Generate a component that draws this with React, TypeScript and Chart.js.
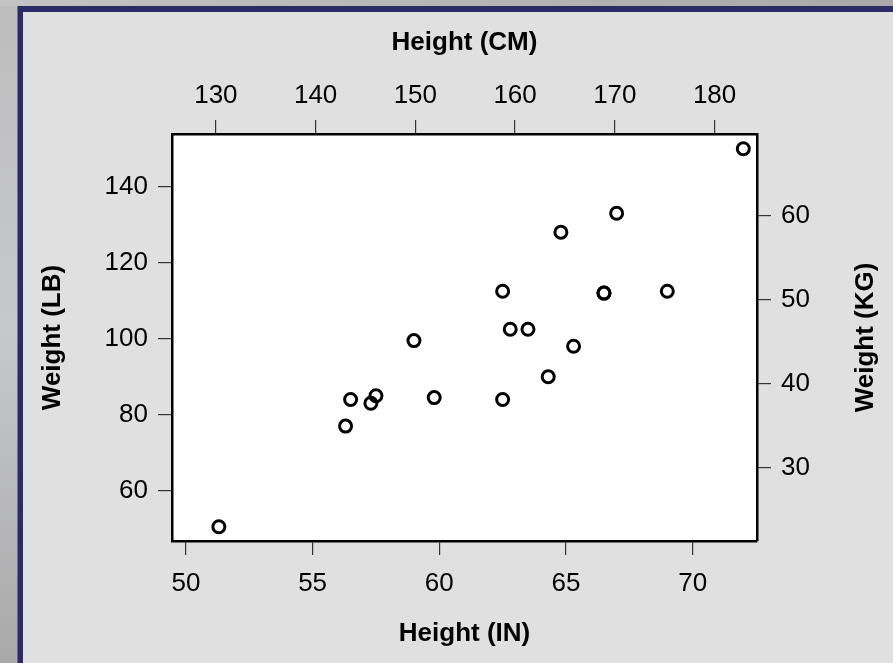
import React, { useEffect, useRef } from "react";
import { Chart, registerables } from "chart.js";

Chart.register(...registerables);

// Data (height in inches, weight in pounds)
const heightIn = [69, 56.5, 65.3, 62.8, 63.5, 57.3, 59.8, 62.5, 62.5, 59, 51.3, 64.3, 56.3, 66.5, 72, 64.8, 67, 57.5, 66.5];
const weightLb = [112.5, 84, 98, 102.5, 102.5, 83, 84.5, 112.5, 84, 99.5, 50.5, 90, 77, 112, 150, 128, 133, 85, 112];

// Tick labels
const xTicksIn = [50, 55, 60, 65, 70];
const xTicksCm = [130, 140, 150, 160, 170, 180];
const yTicksLb = [60, 80, 100, 120, 140];
const yTicksKg = [30, 40, 50, 60];

// Axis ranges
const xRangeIn = [49.45, 72.54];
const yRangeLb = [46.76, 153.87];
const CM_PER_IN = 2.54;
const LB_PER_KG = 2.20462;

const titleBottom = "Height (IN)";
const titleTop = "Height (CM)";
const titleLeft = "Weight (LB)";
const titleRight = "Weight (KG)";

const FONT = "'Liberation Sans', Arial, Helvetica, sans-serif";
const tickFont = { family: FONT, size: 26 };
const titleFont = { family: FONT, size: 26, weight: "bold" as const };

const grid = {
  display: true,
  drawOnChartArea: false,
  drawTicks: true,
  tickLength: 14,
  tickColor: "#333",
  tickWidth: 1.2,
  lineWidth: 1.2,
  color: "#333",
};
const border = { display: true, color: "#000", width: 2.5 };
const setTicks = (vals: number[]) => (scale: any) => {
  scale.ticks = vals.map((v) => ({ value: v }));
};

const bgPlugin = {
  id: "bgPlugin",
  beforeDraw(chart: any) {
    const { ctx, width, height, chartArea } = chart;
    ctx.save();
    const g = ctx.createLinearGradient(0, 0, 0, height);
    g.addColorStop(0, "#bdbdbd");
    g.addColorStop(0.5, "#c7c8cc");
    g.addColorStop(1, "#a9a9a9");
    ctx.fillStyle = g;
    ctx.fillRect(0, 0, width, height);
    const gt = ctx.createLinearGradient(0, 0, width, 0);
    gt.addColorStop(0, "#c4c4c4");
    gt.addColorStop(1, "#a8a8a8");
    ctx.fillStyle = gt;
    ctx.fillRect(0, 0, width, 6);
    // navy frame
    ctx.fillStyle = "#2b2b66";
    ctx.fillRect(17.5, 6, width, height);
    // panel
    ctx.fillStyle = "#e0e0e0";
    ctx.fillRect(23, 12, width, height);
    // plot area
    ctx.fillStyle = "#ffffff";
    ctx.fillRect(chartArea.left, chartArea.top, chartArea.right - chartArea.left, chartArea.bottom - chartArea.top);
    ctx.restore();
  },
};

const rightTitlePlugin = {
  id: "rightTitlePlugin",
  afterDraw(chart: any) {
    const { ctx, chartArea } = chart;
    ctx.save();
    ctx.translate(866, (chartArea.top + chartArea.bottom) / 2);
    ctx.rotate(-Math.PI / 2);
    ctx.font = `bold 26px ${FONT}`;
    ctx.fillStyle = "#000";
    ctx.textAlign = "center";
    ctx.textBaseline = "middle";
    ctx.fillText(titleRight, 0, 0);
    ctx.restore();
  },
};

export default function App() {
  const ref = useRef<HTMLCanvasElement>(null);

  useEffect(() => {
    const points = heightIn.map((x, i) => ({ x, y: weightLb[i] }));
    const chart = new Chart(ref.current!, {
      type: "scatter",
      data: {
        datasets: [
          {
            data: points,
            xAxisID: "x",
            yAxisID: "y",
            pointRadius: 6,
            borderWidth: 3,
            borderColor: "#000",
            backgroundColor: "rgba(0,0,0,0)",
            pointHoverRadius: 6,
          } as any,
        ],
      },
      options: {
        responsive: false,
        devicePixelRatio: 1,
        animation: false,
        events: [],
        layout: { padding: 0 },
        plugins: { legend: { display: false }, tooltip: { enabled: false } },
        scales: {
          x: {
            type: "linear",
            position: "bottom",
            min: xRangeIn[0],
            max: xRangeIn[1],
            afterBuildTicks: setTicks(xTicksIn),
            afterFit: (s: any) => {
              s.height = 122;
            },
            ticks: { font: tickFont, color: "#000", padding: 13, maxRotation: 0, autoSkip: false },
            title: { display: true, text: titleBottom, font: titleFont, color: "#000", padding: { top: 0, bottom: 13.4 } },
            grid,
            border,
          },
          x2: {
            type: "linear",
            position: "top",
            min: xRangeIn[0] * CM_PER_IN,
            max: xRangeIn[1] * CM_PER_IN,
            afterBuildTicks: setTicks(xTicksCm),
            afterFit: (s: any) => {
              s.height = 134;
            },
            ticks: { font: tickFont, color: "#000", padding: 9, maxRotation: 0, autoSkip: false },
            title: { display: true, text: titleTop, font: titleFont, color: "#000", padding: { top: 27.4, bottom: 0 } },
            grid,
            border,
          },
          y: {
            type: "linear",
            position: "left",
            min: yRangeLb[0],
            max: yRangeLb[1],
            afterBuildTicks: setTicks(yTicksLb),
            afterFit: (s: any) => {
              s.width = 172;
            },
            ticks: { font: tickFont, color: "#000", padding: 10, autoSkip: false },
            title: { display: true, text: titleLeft, font: titleFont, color: "#000", padding: { top: 37.7, bottom: 0 } },
            grid,
            border,
          },
          y2: {
            type: "linear",
            position: "right",
            min: yRangeLb[0] / LB_PER_KG,
            max: yRangeLb[1] / LB_PER_KG,
            afterBuildTicks: setTicks(yTicksKg),
            afterFit: (s: any) => {
              s.width = 136;
            },
            ticks: { font: tickFont, color: "#000", padding: 10, autoSkip: false },
            title: { display: false, text: titleRight },
            grid,
            border,
          },
        },
      } as any,
      plugins: [bgPlugin, rightTitlePlugin],
    });
    return () => chart.destroy();
  }, []);

  return (
    <div style={{ position: "fixed", left: 0, top: 0, width: 893, height: 663 }}>
      <canvas ref={ref} width={893} height={663} style={{ display: "block", width: 893, height: 663 }} />
    </div>
  );
}
